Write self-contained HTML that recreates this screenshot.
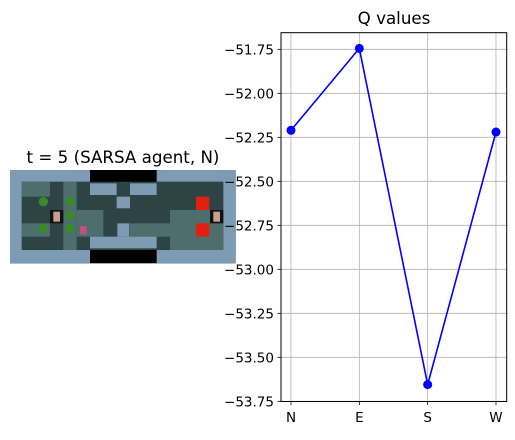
<!DOCTYPE html>
<html><head><meta charset="utf-8"><style>
body{margin:0;background:#fff;width:515px;height:435px;overflow:hidden;font-family:"Liberation Sans","DejaVu Sans",sans-serif}
svg text{font-family:"DejaVu Sans","Liberation Sans",sans-serif}
</style></head><body>
<svg width="515" height="435" xmlns="http://www.w3.org/2000/svg">
<text x="123" y="163" font-size="16.7" text-anchor="middle" fill="#000">t = 5 (SARSA agent, N)</text>
<svg x="0" y="140" width="245" height="130" viewBox="0 0 735 390">
<rect x="30" y="90" width="677" height="280" fill="#000"/>
<rect x="30" y="90" width="240" height="280" fill="#7d9bb3"/>
<rect x="470" y="90" width="237" height="280" fill="#7d9bb3"/>
<rect x="65" y="125" width="605" height="205" fill="#2e4343"/>
<rect x="65" y="125" width="85" height="45" fill="#4e6e6e"/>
<rect x="65" y="250" width="85" height="40" fill="#4e6e6e"/>
<rect x="190" y="125" width="40" height="205" fill="#4e6e6e"/>
<rect x="230" y="210" width="80" height="80" fill="#4e6e6e"/>
<rect x="390" y="250" width="120" height="40" fill="#4e6e6e"/>
<rect x="510" y="210" width="160" height="120" fill="#4e6e6e"/>
<rect x="270" y="130" width="80" height="35" fill="#7d9bb3"/>
<rect x="390" y="130" width="80" height="35" fill="#7d9bb3"/>
<rect x="350" y="170" width="40" height="35" fill="#7d9bb3"/>
<rect x="270" y="290" width="200" height="35" fill="#7d9bb3"/>
<rect x="352" y="250" width="36" height="40" fill="#7d9bb3"/>
<rect x="588" y="170" width="40" height="40" fill="#e02010"/>
<rect x="588" y="250" width="40" height="40" fill="#e02010"/>
<rect x="150" y="210" width="40" height="40" fill="#111"/><rect x="160" y="215" width="20" height="30" fill="#c8a090"/>
<rect x="630" y="210" width="40" height="40" fill="#111"/><rect x="640" y="215" width="20" height="30" fill="#c8a090"/>
<g fill="#3a8a2a"><circle cx="130" cy="185" r="14"/><circle cx="210" cy="185" r="14"/><circle cx="210" cy="225" r="14"/><circle cx="130" cy="265" r="14"/><circle cx="210" cy="265" r="14"/></g>
<rect x="240" y="258" width="20" height="25" fill="#c05080"/>
</svg>
<g>
<text x="394" y="24" font-size="16.7" text-anchor="middle" fill="#000">Q values</text>
<g id="grid"></g>
<rect x="281" y="32.7" width="225.7" height="368.8" fill="none" stroke="#000" stroke-width="1"/>
<g id="ticks"></g>
<g id="series"></g>
</g>
</svg>
<script>
const categories=["N","E","S","W"];
const qValues=[-52.21,-51.745,-53.655,-52.22];
const yTicks=[-51.75,-52.00,-52.25,-52.50,-52.75,-53.00,-53.25,-53.50,-53.75];
const NS="http://www.w3.org/2000/svg";
const X0=291,DX=68.33;
function xs(i){return X0+i*DX;}
function ys(v){return 49.3+(-51.75-v)*176;}
function mk(t,a,p){const e=document.createElementNS(NS,t);for(const k in a)e.setAttribute(k,a[k]);p.appendChild(e);return e;}
const grid=document.getElementById('grid'),ticks=document.getElementById('ticks'),ser=document.getElementById('series');
yTicks.forEach(v=>{const y=ys(v);
const g=mk('line',{x1:281,x2:506.7,y1:y,y2:y,stroke:'#b0b0b0','stroke-width':0.8},grid);


mk('line',{x1:277.5,x2:281,y1:y,y2:y,stroke:'#000','stroke-width':0.8},ticks);
const t=mk('text',{x:274,y:y+5,'font-size':13.5,'text-anchor':'end',fill:'#000'},ticks);
t.textContent='\u2212'+Math.abs(v).toFixed(2);

});
categories.forEach((c,i)=>{const x=xs(i);
const g=mk('line',{x1:x,x2:x,y1:32.7,y2:401.5,stroke:'#b0b0b0','stroke-width':0.8},grid);


mk('line',{x1:x,x2:x,y1:401.5,y2:405,stroke:'#000','stroke-width':0.8},ticks);
const t=mk('text',{x:x,y:422,'font-size':13.5,'text-anchor':'middle',fill:'#000'},ticks);
t.textContent=c;

});
const pl=mk('polyline',{points:qValues.map((v,i)=>xs(i)+','+ys(v)).join(' '),fill:'none',stroke:'#0000ff','stroke-width':1.6},ser);


qValues.forEach((v,i)=>{const c=mk('circle',{cx:xs(i),cy:ys(v),r:4.5,fill:'#0000ff'},ser);

});
</script>
</body></html>
